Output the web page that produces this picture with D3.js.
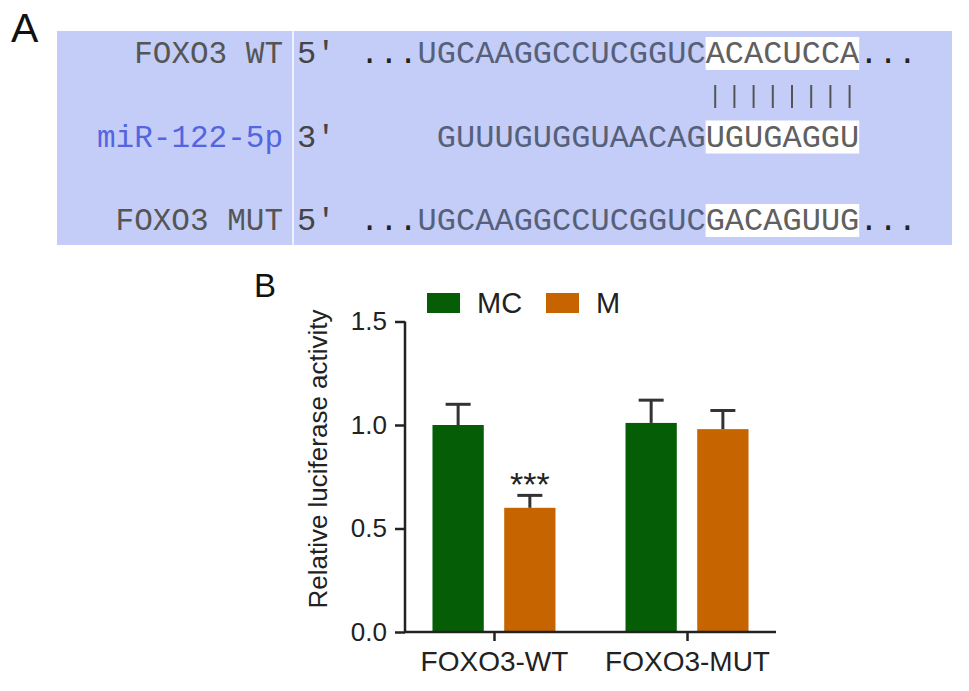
<!DOCTYPE html>
<html>
<head>
<meta charset="utf-8">
<script src="https://cdn.jsdelivr.net/npm/d3@7"></script>
<style>
  body { margin: 0; background: #fff; }
  svg { display: block; }
</style>
</head>
<body>
<div id="chart-area"></div>
<script>
// panel A: sequence alignment
var rowLabels = ["FOXO3 WT", "miR-122-5p", "FOXO3 MUT"];
var rowEnds = ["5'", "3'", "5'"];
var rowHead = ["...", "", "..."];
var rowBody = ["UGCAAGGCCUCGGUC", "GUUUGUGGUAACAG", "UGCAAGGCCUCGGUC"];
var rowSite = ["ACACUCCA", "UGUGAGGU", "GACAGUUG"];
var rowTail = ["...", "", "..."];
var rowStartCol = [0, 4, 0];
var pairCount = 8;

// panel B: luciferase
var groups = ["FOXO3-WT", "FOXO3-MUT"];
var series = ["MC", "M"];
var mcValues = [1.00, 1.01];
var mcErrors = [0.10, 0.11];
var mValues = [0.60, 0.98];
var mErrors = [0.06, 0.09];
var yTicks = [0.0, 0.5, 1.0, 1.5];
var stars = ["***", ""];

var colors = { "MC": "#055d05", "M": "#c66400" };

var svg = d3.select("#chart-area").append("svg")
    .attr("width", 969)
    .attr("height", 691);

// ---------- A ----------
svg.append("text")
    .attr("x", 11).attr("y", 42)
    .attr("font-family", "Liberation Sans, Arial, sans-serif")
    .attr("font-size", 41)
    .attr("fill", "#111")
    .text("A");

svg.append("rect")
    .attr("x", 57).attr("y", 31)
    .attr("width", 895).attr("height", 214)
    .attr("fill", "#c4cdf7");

svg.append("line")
    .attr("x1", 293).attr("x2", 293)
    .attr("y1", 31).attr("y2", 245)
    .attr("stroke", "#eef1fd").attr("stroke-width", 2);

var charW = 19.2;
var seqX = 360;
var rowY = d3.scalePoint().domain(d3.range(3)).range([63, 230]);
var siteCol = rowHead[0].length + rowBody[0].length; // column where binding site starts

rowLabels.forEach(function(lab, i) {
  var y = rowY(i);
  var x0 = seqX + rowStartCol[i] * charW;
  var siteX = seqX + siteCol * charW;

  svg.append("rect")
      .attr("x", siteX).attr("y", y - 26)
      .attr("width", pairCount * charW).attr("height", 33)
      .attr("fill", "#fff");

  svg.append("text")
      .attr("x", 283).attr("y", y)
      .attr("text-anchor", "end")
      .attr("font-family", "Liberation Mono, Courier New, monospace")
      .attr("font-size", 31)
      .attr("fill", i == 1 ? "#5565e0" : "#555")
      .text(lab);

  svg.append("text")
      .attr("x", 297).attr("y", y)
      .attr("font-family", "Liberation Mono, Courier New, monospace")
      .attr("font-size", 32)
      .attr("fill", "#444")
      .text(rowEnds[i]);

  var t = svg.append("text")
      .attr("x", x0).attr("y", y)
      .attr("font-family", "Liberation Mono, Courier New, monospace")
      .attr("font-size", 32)
      .style("white-space", "pre");
  t.append("tspan").attr("fill", "#222").text(rowHead[i]);
  t.append("tspan").attr("fill", "#56607a").text(rowBody[i]);
  t.append("tspan").attr("fill", "#606060").text(rowSite[i]);
  t.append("tspan").attr("fill", "#222").text(rowTail[i]);
});

// base pairing ticks
svg.selectAll(".pair")
    .data(d3.range(pairCount))
  .enter().append("line")
    .attr("class", "pair")
    .attr("x1", function(d) { return seqX + (siteCol + d + 0.5) * charW; })
    .attr("x2", function(d) { return seqX + (siteCol + d + 0.5) * charW; })
    .attr("y1", 85).attr("y2", 108)
    .attr("stroke", "#555").attr("stroke-width", 2);

// ---------- B ----------
var font = "Liberation Sans, Arial, Helvetica, sans-serif";

svg.append("text")
    .attr("x", 254).attr("y", 297)
    .attr("font-family", font)
    .attr("font-size", 33)
    .attr("fill", "#111")
    .text("B");

var y = d3.scaleLinear().domain([0, 1.5]).range([632, 321.5]);
var x = d3.scalePoint().domain(groups).range([405, 776]).padding(0.461);
var xs = d3.scaleBand().domain(series).range([-61.5, 61.5]).paddingInner(0.285);

var rows = [];
groups.forEach(function(g, i) {
  rows.push({ group: g, s: "MC", v: mcValues[i], e: mcErrors[i], star: "" });
  rows.push({ group: g, s: "M", v: mValues[i], e: mErrors[i], star: stars[i] });
});

svg.selectAll(".bar")
    .data(rows)
  .enter().append("rect")
    .attr("class", "bar")
    .attr("x", function(d) { return x(d.group) + xs(d.s); })
    .attr("width", xs.bandwidth())
    .attr("y", function(d) { return y(d.v); })
    .attr("height", function(d) { return y(0) - y(d.v); })
    .attr("fill", function(d) { return colors[d.s]; });

// error bars (upper only)
var eb = svg.selectAll(".err")
    .data(rows)
  .enter().append("g")
    .attr("class", "err")
    .attr("stroke", "#333")
    .attr("stroke-width", 3);
eb.append("line")
    .attr("x1", function(d) { return x(d.group) + xs(d.s) + xs.bandwidth() / 2; })
    .attr("x2", function(d) { return x(d.group) + xs(d.s) + xs.bandwidth() / 2; })
    .attr("y1", function(d) { return y(d.v); })
    .attr("y2", function(d) { return y(d.v + d.e); });
eb.append("line")
    .attr("x1", function(d) { return x(d.group) + xs(d.s) + xs.bandwidth() / 2 - 12.5; })
    .attr("x2", function(d) { return x(d.group) + xs(d.s) + xs.bandwidth() / 2 + 12.5; })
    .attr("y1", function(d) { return y(d.v + d.e); })
    .attr("y2", function(d) { return y(d.v + d.e); });

svg.selectAll(".star")
    .data(rows.filter(function(d) { return d.star; }))
  .enter().append("text")
    .attr("class", "star")
    .attr("x", function(d) { return x(d.group) + xs(d.s) + xs.bandwidth() / 2; })
    .attr("y", function(d) { return y(d.v + d.e) + 1; })
    .attr("dy", "0.62em")
    .attr("text-anchor", "middle")
    .attr("font-family", font)
    .attr("font-size", 34)
    .attr("fill", "#222")
    .attr("transform", "translate(0,-21)")
    .text(function(d) { return d.star; });

// axes
var yAxis = svg.append("g")
    .attr("transform", "translate(405,0)")
    .call(d3.axisLeft(y).tickValues(yTicks).tickFormat(d3.format(".1f")).tickSizeOuter(0).tickSize(10).tickPadding(8));
var xAxis = svg.append("g")
    .attr("transform", "translate(0,632)")
    .call(d3.axisBottom(x).tickSizeOuter(0).tickSize(9).tickPadding(10));

[yAxis, xAxis].forEach(function(a) {
  a.select(".domain").attr("stroke", "#222").attr("stroke-width", 2.5);
  a.selectAll(".tick line").attr("stroke", "#222").attr("stroke-width", 2.5);
  a.selectAll("text")
      .attr("font-family", font)
      .attr("font-size", 26)
      .attr("fill", "#222");
});
xAxis.select(".domain").attr("d", "M404,0H776");
yAxis.select(".domain").attr("d", "M0,632V321.5");
xAxis.selectAll("text").attr("font-size", 28);

svg.append("text")
    .attr("transform", "translate(327,459) rotate(-90)")
    .attr("text-anchor", "middle")
    .attr("font-family", font)
    .attr("font-size", 26)
    .attr("fill", "#222")
    .text("Relative luciferase activity");

// legend
var legend = svg.selectAll(".legend")
    .data(series)
  .enter().append("g")
    .attr("class", "legend")
    .attr("transform", function(d, i) { return "translate(" + (427 + i * 119) + ",293)"; });
legend.append("rect")
    .attr("width", 33).attr("height", 20)
    .attr("fill", function(d) { return colors[d]; });
legend.append("text")
    .attr("x", 50).attr("y", 20)
    .attr("font-family", font)
    .attr("font-size", 29)
    .attr("fill", "#222")
    .text(function(d) { return d; });
</script>
</body>
</html>
